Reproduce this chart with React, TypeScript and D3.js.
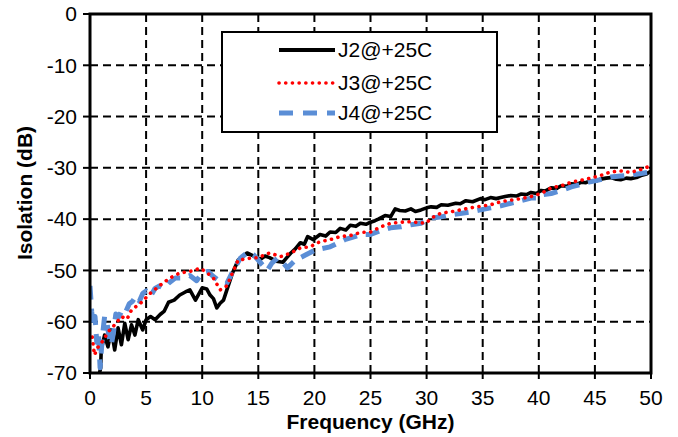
import React from "react";
import * as d3 from "d3";

const xTicks = [0, 5, 10, 15, 20, 25, 30, 35, 40, 45, 50];
const yTicks = [0, -10, -20, -30, -40, -50, -60, -70];

const j2Freq = [0.85, 0.95, 1.0, 1.3, 1.6, 1.9, 2.2, 2.5, 2.8, 3.1, 3.4, 3.7, 4.0, 4.3, 4.7, 5.0, 5.4, 5.8, 6.25, 6.6, 7.0, 7.5, 8.0, 8.5, 8.9, 9.4, 10.0, 10.4, 10.7, 11.0, 11.3, 11.6, 11.9, 12.2, 12.7, 13.2, 14.0, 14.6, 15.2, 15.6, 16.0, 16.6, 17.2, 17.5, 17.9, 18.3, 18.75, 19.1, 19.4, 19.9, 20.5, 21.0, 21.4, 21.9, 22.3, 22.8, 23.2, 23.7, 24.1, 24.6, 25.0, 25.4, 25.7, 26.3, 26.8, 27.2, 27.6, 28.1, 28.6, 29.0, 29.5, 30.0, 30.4, 30.9, 31.3, 31.9, 32.6, 33.0, 33.5, 34.1, 34.8, 35.2, 35.7, 36.2, 36.6, 37.0, 37.5, 38.0, 38.4, 38.9, 39.3, 39.8, 40.2, 40.6, 41.1, 41.6, 42.0, 42.5, 42.9, 43.4, 43.8, 44.2, 44.6, 45.1, 45.5, 46.0, 46.4, 46.9, 47.3, 47.8, 48.2, 48.7, 49.1, 49.6, 50];
const j2Db = [-70, -69, -65.5, -62.6, -64.9, -61.6, -65.5, -61.2, -64.5, -60.3, -63.5, -60.6, -62.6, -59.6, -61.6, -59.6, -59, -59.6, -58.6, -58, -56.2, -55.8, -54.8, -54.2, -53.8, -55.8, -53.4, -53.6, -54.8, -55.5, -57.3, -56.4, -55.8, -53.8, -50.5, -48, -46.6, -47.2, -47.8, -47.2, -47.5, -48.2, -48.4, -47.6, -46.6, -45.8, -44.6, -44.9, -43.4, -44, -43, -43.3, -42.5, -42.6, -41.8, -42.1, -41.2, -41.4, -40.8, -41.0, -40.6, -40.3, -40, -39.3, -39.5, -38, -38.3, -38.4, -38.0, -38.5, -38.2, -37.8, -37.6, -37.7, -37.2, -37.3, -36.9, -37.0, -36.4, -36.6, -36, -36.2, -35.8, -36.0, -35.8, -35.6, -35.4, -35.5, -35.1, -35.2, -34.8, -35.0, -34.4, -34.5, -33.9, -34.0, -33.5, -33.6, -33.1, -33.2, -32.8, -32.9, -32.5, -32.6, -32.2, -32.0, -31.9, -32.2, -32.3, -32.0, -32.1, -31.9, -31.5, -31.2, -30.6];

const j3Freq = [0.2, 0.4, 0.7, 1.2, 1.6, 2.2, 2.8, 3.3, 3.7, 4.5, 5.4, 6.3, 7.1, 8.0, 8.9, 9.8, 10.3, 11.0, 11.6, 12.2, 12.7, 13.2, 14.3, 15.0, 16.0, 17.0, 17.9, 18.75, 19.6, 20.5, 21.4, 22.3, 23.2, 24.1, 25.0, 25.9, 26.8, 27.7, 28.6, 29.9, 30.6, 31.3, 32.1, 33.0, 33.9, 34.8, 35.7, 36.6, 37.5, 38.4, 39.3, 40.2, 41.1, 42.0, 42.9, 43.8, 44.6, 45.5, 46.4, 47.3, 48.2, 49.1, 50];
const j3Db = [-63, -66.5, -65, -63.6, -62, -60.6, -59, -59.5, -57.7, -56.4, -54.4, -52.8, -51.5, -50.5, -50.2, -49.6, -50.2, -51.5, -53.8, -53, -50.5, -48, -47.6, -47.5, -46.6, -47.3, -46.6, -45.6, -45.4, -44.4, -44, -43.4, -43.2, -42.6, -42.5, -41.5, -40.8, -40.6, -40.5, -40.8, -39.6, -38.8, -38.6, -38.2, -37.8, -37.5, -37.2, -36.6, -36.3, -36, -35.6, -35, -33.9, -33.5, -32.8, -32.4, -32, -31.5, -30.8, -30.6, -30.9, -30.3, -29.6];

const j4Freq = [0, 0.15, 0.3, 0.45, 0.6, 0.75, 0.9, 1.1, 1.3, 1.5, 1.7, 1.9, 2.1, 2.3, 2.6, 2.9, 3.2, 3.5, 3.8, 4.1, 4.4, 4.7, 5.0, 5.4, 5.8, 6.2, 6.6, 7.0, 7.6, 8.2, 8.9, 9.5, 10.0, 10.5, 11.0, 11.6, 12.2, 12.7, 13.4, 14.1, 14.6, 15.2, 15.8, 16.2, 16.7, 17.2, 17.6, 18.3, 19.2, 20.1, 21.4, 22.7, 23.6, 24.1, 25.0, 25.8, 26.8, 27.7, 28.6, 29.5, 30.4, 31.2, 32.1, 33.0, 33.9, 34.8, 35.7, 36.6, 37.5, 38.4, 39.3, 39.9, 40.2, 41.1, 42.0, 42.9, 43.8, 44.6, 45.5, 46.4, 47.3, 48.2, 49.1, 50];
const j4Db = [-53, -58, -61, -59, -64, -62, -69, -63, -59, -60, -63, -64.5, -62, -58.5, -59, -57.5, -58, -56.5, -56, -55, -56, -54.5, -54, -55, -53.5, -53, -53.5, -52.5, -51.5, -51.5, -51, -52, -50.5, -50.2, -51.2, -52.2, -52.5, -50.3, -47.6, -46.4, -47, -48.5, -50, -48.6, -47.6, -48.5, -49.5, -48, -47, -46, -45.4, -44, -43.4, -43, -43, -42.3, -41.7, -41.5, -41.1, -40.8, -39.8, -39.6, -39.2, -38.9, -38.6, -38.2, -37.8, -37.4, -36.9, -36.4, -35.9, -35.9, -35.3, -35, -34.4, -33.7, -33.2, -32.7, -32.3, -31.8, -31.6, -31.4, -31.1, -30.8];

const legendLabels = ["J2@+25C", "J3@+25C", "J4@+25C"];

const W = 678;
const H = 437;
const FONT = "'Liberation Sans', Arial, sans-serif";

export default function App() {
  const x = d3.scaleLinear().domain([0, 50]).range([90, 651]);
  const y = d3.scaleLinear().domain([-70, 0]).range([373, 14]);
  const line = d3
    .line<[number, number]>()
    .x((d) => x(d[0]))
    .y((d) => y(d[1]));
  const zip = (f: number[], v: number[]) => f.map((ff, i) => [ff, v[i]] as [number, number]);

  const series = [
    { data: zip(j2Freq, j2Db), stroke: "#000000", width: 3.6, dash: undefined as string | undefined, cap: "butt" },
    { data: zip(j4Freq, j4Db), stroke: "#5B8ED6", width: 5, dash: "14 9", cap: "butt" },
    { data: zip(j3Freq, j3Db), stroke: "#FF0000", width: 3.6, dash: "0.1 6.6", cap: "round" },
  ];
  const legendStyles = [
    { stroke: "#000000", width: 4, dash: undefined as string | undefined, cap: "butt" },
    { stroke: "#FF0000", width: 3.6, dash: "0.1 6.6", cap: "round" },
    { stroke: "#5B8ED6", width: 5, dash: "14 10", cap: "butt" },
  ];
  const legendY = [50, 83, 113];

  const [x0, x1] = x.range();
  const [yb, yt] = y.range();

  return (
    <svg
      width={W}
      height={H}
      style={{ position: "absolute", left: 0, top: 0, background: "#fff" }}
      fontFamily={FONT}
    >
      <defs>
        <clipPath id="plot">
          <rect x={x0} y={yt} width={x1 - x0} height={yb - yt} />
        </clipPath>
      </defs>
      <rect x={0} y={0} width={W} height={H} fill="#fff" />
      {xTicks.slice(1, -1).map((t) => (
        <line key={"gx" + t} x1={x(t)} x2={x(t)} y1={yt} y2={yb} stroke="#000" strokeWidth={2} strokeDasharray="8 5" />
      ))}
      {yTicks.slice(1, -1).map((t) => (
        <line key={"gy" + t} x1={x0} x2={x1} y1={y(t)} y2={y(t)} stroke="#000" strokeWidth={2} strokeDasharray="8 5" />
      ))}
      <g clipPath="url(#plot)">
        {series.map((s, i) => (
          <path
            key={i}
            d={line(s.data) || ""}
            fill="none"
            stroke={s.stroke}
            strokeWidth={s.width}
            strokeDasharray={s.dash}
            strokeLinecap={s.cap as any}
            strokeLinejoin="round"
          />
        ))}
      </g>
      <rect x={x0} y={yt} width={x1 - x0} height={yb - yt} fill="none" stroke="#000" strokeWidth={3} />
      {yTicks.map((t) => (
        <line key={"ty" + t} x1={x0 - 7} x2={x0} y1={y(t)} y2={y(t)} stroke="#000" strokeWidth={2} />
      ))}
      {xTicks.map((t) => (
        <line key={"tx" + t} x1={x(t)} x2={x(t)} y1={yb} y2={yb + 6} stroke="#000" strokeWidth={2} />
      ))}
      {yTicks.map((t) => (
        <text key={"ly" + t} x={77} y={y(t)} dy="0.35em" textAnchor="end" fontSize={21} fill="#000">
          {t}
        </text>
      ))}
      {xTicks.map((t) => (
        <text key={"lx" + t} x={x(t)} y={405} textAnchor="middle" fontSize={21} fill="#000">
          {t}
        </text>
      ))}
      <text x={(x0 + x1) / 2} y={429} textAnchor="middle" fontSize={21} fontWeight="bold" fill="#000">
        Frequency (GHz)
      </text>
      <text transform={`translate(32,${193}) rotate(-90)`} textAnchor="middle" fontSize={21} fontWeight="bold" fill="#000">
        Isolation (dB)
      </text>
      <rect x={222} y={32} width={275} height={100} fill="#fff" stroke="#000" strokeWidth={2} />
      {legendLabels.map((lab, i) => (
        <g key={lab}>
          <line
            x1={279}
            x2={335}
            y1={legendY[i]}
            y2={legendY[i]}
            stroke={legendStyles[i].stroke}
            strokeWidth={legendStyles[i].width}
            strokeDasharray={legendStyles[i].dash}
            strokeLinecap={legendStyles[i].cap as any}
          />
          <text x={338} y={legendY[i]} dy="0.35em" fontSize={21} fill="#000">
            {lab}
          </text>
        </g>
      ))}
    </svg>
  );
}
